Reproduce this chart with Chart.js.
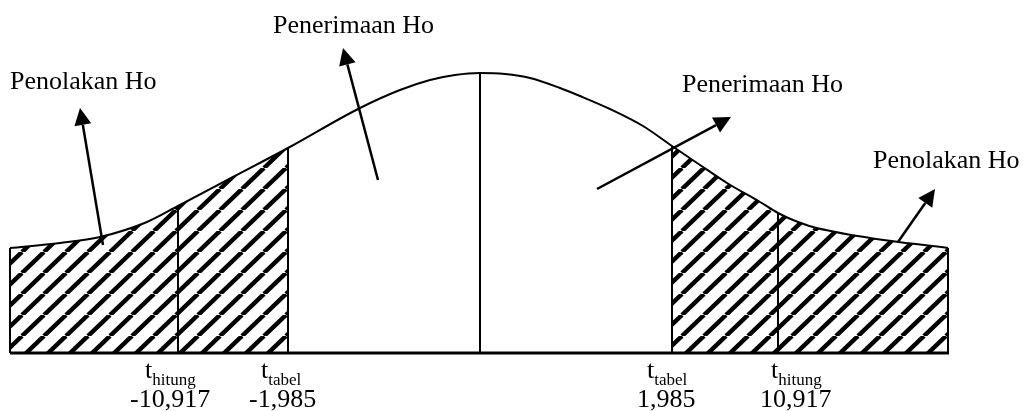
<!DOCTYPE html>
<html>
<head>
<meta charset="utf-8">
<script src="https://cdn.jsdelivr.net/npm/chart.js@4/dist/chart.umd.min.js"></script>
<style>
  html, body { margin: 0; padding: 0; background: #fff; }
  #wrap { width: 1023px; height: 411px; position: relative; }
</style>
</head>
<body>
<div id="wrap"><canvas id="curveChart"></canvas></div>
<script>
// curve: horizontal position and height above the baseline
const curveX = [10, 60, 100, 147, 178, 233, 288, 360, 400, 430, 455, 480, 505, 530, 560, 580, 610, 643, 672, 700, 727, 760, 778, 793, 813, 870, 948];
const curveY = [105, 110, 116, 131, 147, 176, 205, 245, 263, 273, 278, 280, 279, 275, 265, 257, 244, 227, 207, 188, 170, 151, 140, 133, 126, 115, 105];

// rejection areas (hatched) and the vertical markers
const leftTailEnd = 288;
const rightTailStart = 672;
const markerX = [10, 178, 288, 480, 672, 778, 948];
const baseLine = [10, 949];

// labels under the axis
const tLabels = ["hitung", "tabel", "tabel", "hitung"];
const tLabelX = [145, 261, 647, 771];
const tValues = ["-10,917", "-1,985", "1,985", "10,917"];
const tValueX = [130, 249, 637, 760];

// region captions and their arrows
const captions = ["Penolakan Ho", "Penerimaan Ho", "Penerimaan Ho", "Penolakan Ho"];
const captionX = [10, 273, 682, 873];
const captionY = [264, 320, 261, 185];
const arrowFrom = [[103, 108], [378, 173], [597, 164], [898, 111]];
const arrowTo = [[80, 245], [343, 305], [731, 236], [935, 164]];

const curvePts = curveX.map((x, i) => ({ x: x, y: curveY[i] }));
const heightAt = (x) => curvePts.find((p) => p.x === x).y;

// diagonal hatch
function makeHatch() {
  const w = 22, h = 21;
  const tile = document.createElement("canvas");
  tile.width = w;
  tile.height = h;
  const c = tile.getContext("2d");
  c.strokeStyle = "#000";
  c.lineWidth = 4.5;
  for (let k = -1; k <= 1; k++) {
    c.beginPath();
    c.moveTo(k * w, h);
    c.lineTo((k + 1) * w, 0);
    c.stroke();
  }
  return c.createPattern(tile, "repeat");
}
const hatch = makeHatch();

const lineStyle = {
  borderColor: "#000",
  pointRadius: 0,
  fill: false,
  cubicInterpolationMode: "monotone",
};

const datasets = [
  Object.assign({}, lineStyle, {
    data: curvePts.filter((p) => p.x <= leftTailEnd),
    backgroundColor: hatch,
    fill: "origin",
    borderWidth: 0,
  }),
  Object.assign({}, lineStyle, {
    data: curvePts.filter((p) => p.x >= rightTailStart),
    backgroundColor: hatch,
    fill: "origin",
    borderWidth: 0,
  }),
  Object.assign({}, lineStyle, { data: curvePts, borderWidth: 2 }),
];
markerX.forEach((x) => {
  datasets.push(Object.assign({}, lineStyle, {
    data: [{ x: x, y: 0 }, { x: x, y: heightAt(x) }],
    borderWidth: 2,
  }));
});
datasets.push(Object.assign({}, lineStyle, {
  data: baseLine.map((x) => ({ x: x, y: 0 })),
  borderWidth: 3,
}));

const annotations = {
  id: "annotations",
  afterDatasetsDraw(chart) {
    const ctx = chart.ctx;
    const sx = chart.scales.x, sy = chart.scales.y;
    ctx.save();
    ctx.fillStyle = "#000";
    ctx.strokeStyle = "#000";
    ctx.textBaseline = "alphabetic";
    ctx.textAlign = "left";

    // arrows
    arrowFrom.forEach((from, i) => {
      const x1 = sx.getPixelForValue(from[0]), y1 = sy.getPixelForValue(from[1]);
      const x2 = sx.getPixelForValue(arrowTo[i][0]), y2 = sy.getPixelForValue(arrowTo[i][1]);
      const ang = Math.atan2(y2 - y1, x2 - x1);
      const headLen = 17, headW = 8.5;
      const bx = x2 - headLen * Math.cos(ang), by = y2 - headLen * Math.sin(ang);
      ctx.lineWidth = 2.5;
      ctx.beginPath();
      ctx.moveTo(x1, y1);
      ctx.lineTo(bx, by);
      ctx.stroke();
      ctx.beginPath();
      ctx.moveTo(x2, y2);
      ctx.lineTo(bx + headW * Math.sin(ang), by - headW * Math.cos(ang));
      ctx.lineTo(bx - headW * Math.sin(ang), by + headW * Math.cos(ang));
      ctx.closePath();
      ctx.fill();
    });

    // captions
    ctx.font = "26px 'Liberation Serif'";
    captions.forEach((t, i) => {
      ctx.fillText(t, sx.getPixelForValue(captionX[i]), sy.getPixelForValue(captionY[i]));
    });

    // t labels with subscript
    tLabels.forEach((sub, i) => {
      const x = sx.getPixelForValue(tLabelX[i]);
      ctx.font = "26px 'Liberation Serif'";
      ctx.fillText("t", x, sy.getPixelForValue(-25));
      const tw = ctx.measureText("t").width;
      ctx.font = "17px 'Liberation Serif'";
      ctx.fillText(sub, x + tw, sy.getPixelForValue(-32));
    });
    ctx.font = "26px 'Liberation Serif'";
    tValues.forEach((v, i) => {
      ctx.fillText(v, sx.getPixelForValue(tValueX[i]), sy.getPixelForValue(-54));
    });
    ctx.restore();
  },
};

const chart = new Chart(document.getElementById("curveChart").getContext("2d"), {
  type: "line",
  data: { datasets: datasets },
  options: {
    responsive: true,
    maintainAspectRatio: false,
    animation: false,
    devicePixelRatio: 1,
    layout: { padding: 0 },
    scales: {
      x: { type: "linear", min: 0, max: 1023, display: false },
      y: { type: "linear", min: -58, max: 353, display: false },
    },
    plugins: {
      legend: { display: false },
      tooltip: { enabled: false },
    },
  },
  plugins: [annotations],
});
</script>
</body>
</html>
